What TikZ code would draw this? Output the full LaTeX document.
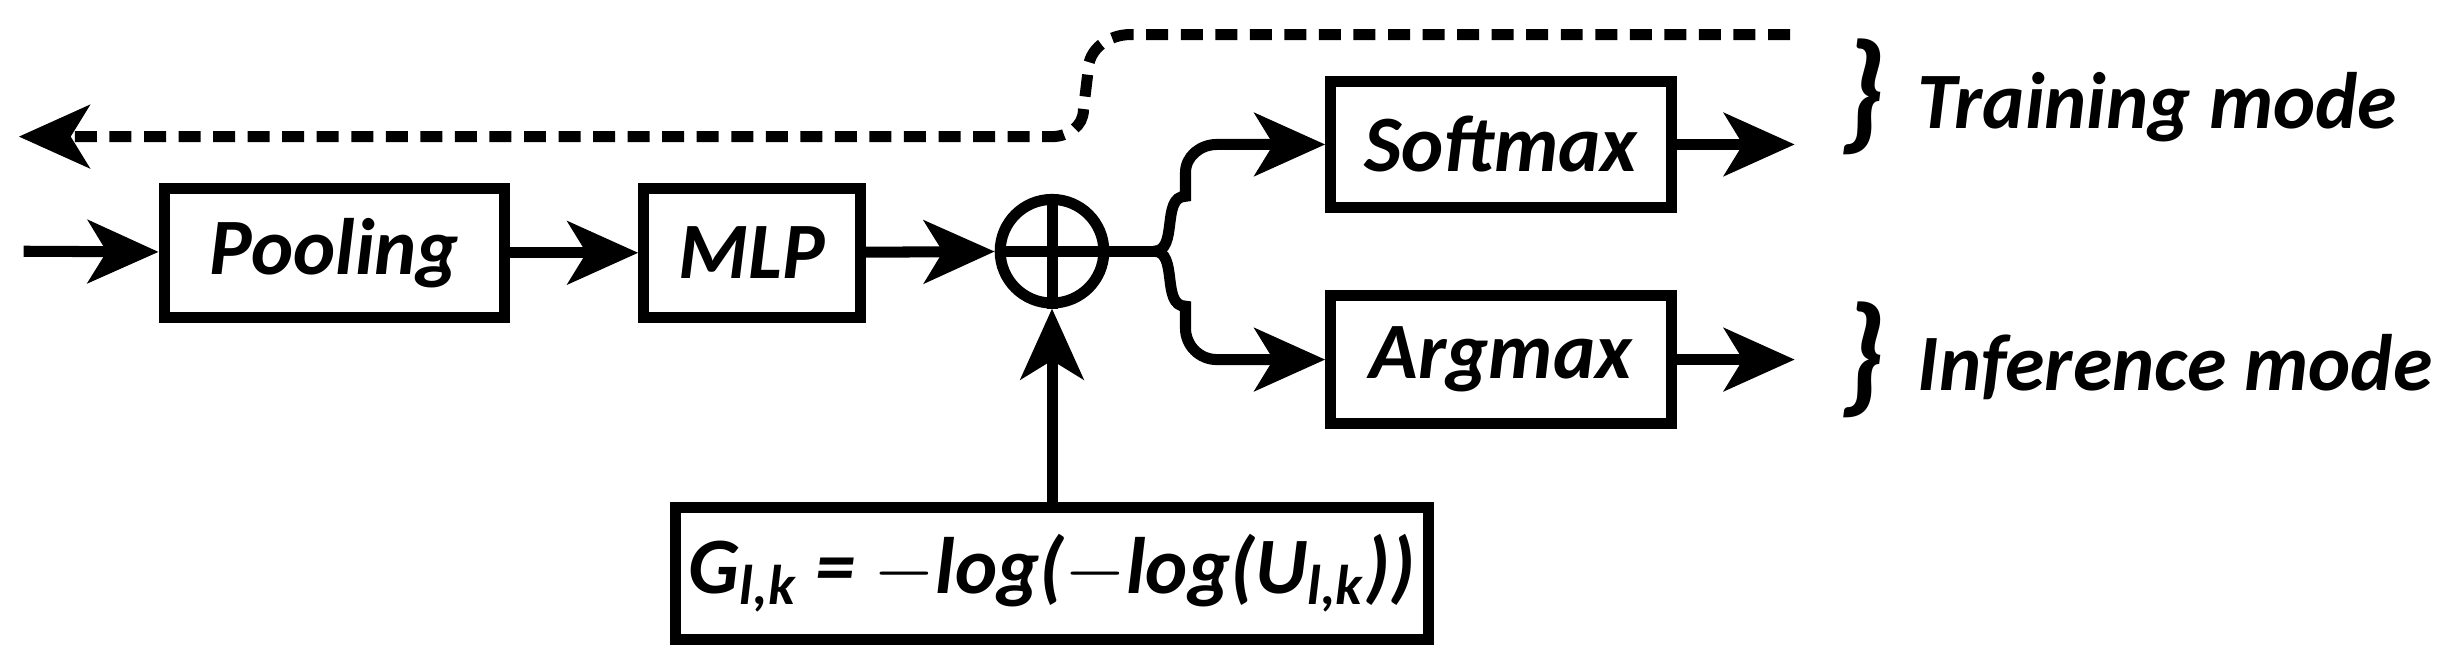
\documentclass[tikz,border=0pt]{standalone}
\usepackage{fontspec}
\setmainfont{Carlito}
\usetikzlibrary{arrows.meta}
\begin{document}
\begin{tikzpicture}
  [
    block/.style = {draw, shape=rectangle, minimum height=0.82cm, line width=2pt, font=\fontsize{14.5}{17}\selectfont\bfseries\itshape, inner sep=0pt},
    link/.style = {line width=2pt, -{Stealth[length=0.45cm, width=0.40cm, inset=0.12cm]}},
    side/.style = {font=\fontsize{14.5}{17}\selectfont\bfseries\itshape, anchor=west},
  ]
  \useasboundingbox (0,0) rectangle (15.68,-4.24);

  \coordinate (in) at (0.15,-1.60);
  \node[block, minimum width=2.17cm] (pool) at (2.13,-1.61) {Pooling};
  \node[block, minimum width=1.38cm] (mlp) at (4.79,-1.61) {MLP};
  \node[draw, circle, line width=2pt, minimum size=0.66cm, inner sep=0pt] (sum) at (6.70,-1.60) {};
  \draw[line width=2pt] (sum.north) -- (sum.south) (sum.west) -- (sum.east);
  \node[block, minimum width=2.17cm, minimum height=0.80cm] (soft) at (9.56,-0.92) {Softmax};
  \node[block, minimum width=2.17cm] (arg) at (9.56,-2.29) {Argmax};
  \node[block, minimum width=4.80cm, minimum height=0.84cm] (gum) at (6.70,-3.65) {G\textsubscript{l,k} = $-$log($-$log(U\textsubscript{l,k}))};

  \coordinate (so) at (11.43,-0.92);
  \coordinate (ao) at (11.43,-2.29);
  \coordinate (fb0) at (11.40,-0.22);
  \coordinate (fb1) at (0.12,-0.87);

  \draw[link] (in) -- (pool);
  \draw[link] (pool) -- (mlp);
  \draw[link] (mlp) -- (sum);
  \draw[link] (gum) -- (sum);
  \draw[line width=2pt] (sum.east) -- (7.35,-1.60);
  \draw[link] (7.35,-1.60) to[out=0, in=180] (7.55,-1.25) -- (7.55,-1.10) to[out=90, in=180] (7.75,-0.92) -- (soft.west);
  \draw[link] (7.35,-1.60) to[out=0, in=180] (7.55,-1.95) -- (7.55,-2.09) to[out=-90, in=180] (7.75,-2.29) -- (arg.west);
  \draw[link] (soft) -- (so);
  \draw[link] (arg) -- (ao);

  % feedback path in training mode
  \draw[link, dash pattern=on 0.14cm off 0.08cm] (fb0) -- (7.20,-0.22) to[out=180, in=90] (6.93,-0.45) -- (6.90,-0.70) to[out=-90, in=0] (6.70,-0.87) -- (fb1);

  \node[side] (train) at (11.60,-0.62) {\raisebox{-0.2ex}{\fontsize{24}{24}\selectfont\}}\hspace{0.2cm}Training mode};
  \node[side] (infer) at (11.60,-2.29) {\raisebox{-0.2ex}{\fontsize{24}{24}\selectfont\}}\hspace{0.2cm}Inference mode};
\end{tikzpicture}
\end{document}
